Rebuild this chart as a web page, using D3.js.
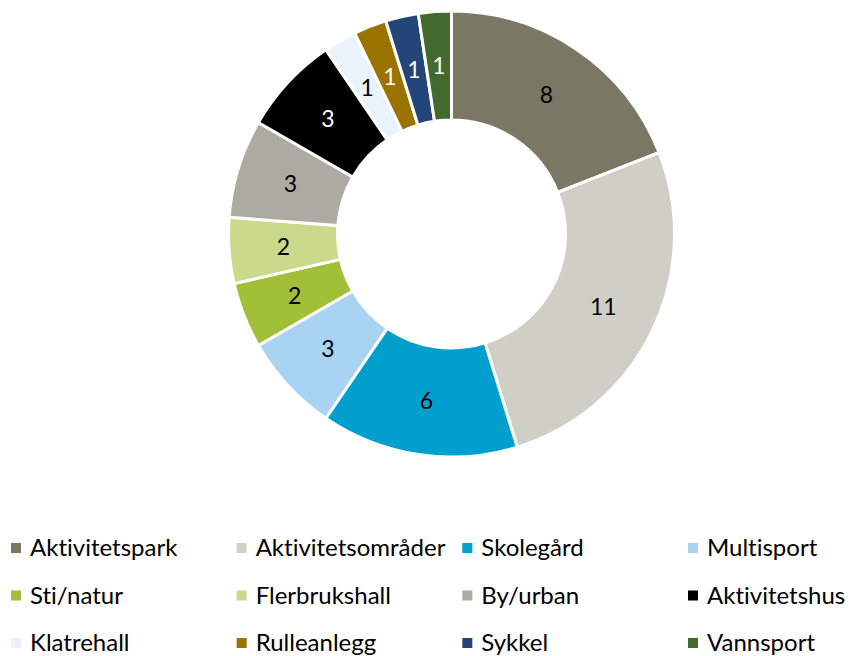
<!DOCTYPE html>
<html>
<head>
<meta charset="utf-8">
<script src="https://cdn.jsdelivr.net/npm/d3@7"></script>
<style>
  body { margin: 0; background: #fff; }
  svg { display: block; font-family: Lato, "Open Sans", sans-serif; font-variant-ligatures: none; }
</style>
</head>
<body>
<div id="chart"></div>
<script>
var w = 849, h = 656;

var categories = ["Aktivitetspark", "Aktivitetsområder", "Skolegård", "Multisport",
                  "Sti/natur", "Flerbrukshall", "By/urban", "Aktivitetshus",
                  "Klatrehall", "Rulleanlegg", "Sykkel", "Vannsport"];
var values = [8, 11, 6, 3, 2, 2, 3, 3, 1, 1, 1, 1];
var colors = ["#7a7864", "#d0cfc6", "#009fce", "#a8d4f2",
              "#a2bf38", "#c9da8b", "#adaaa1", "#000000",
              "#eaf3fc", "#9b7400", "#24457a", "#436a2e"];
var labelColors = ["#000", "#000", "#000", "#000",
                   "#000", "#000", "#000", "#fff",
                   "#000", "#fff", "#fff", "#fff"];

var cx = 451.5, cy = 234, rOuter = 223, rInner = 114;

var svg = d3.select("#chart").append("svg")
    .attr("width", w)
    .attr("height", h)

var data = categories.map(function(c, i) {
    return {name: c, value: values[i], color: colors[i], label: labelColors[i]};
});

var pie = d3.pie().sort(null).value(function(d){ return d.value; });
var arc = d3.arc().innerRadius(rInner).outerRadius(rOuter);
var labelArc = d3.arc().innerRadius((rInner + rOuter) / 2).outerRadius((rInner + rOuter) / 2);

var g = svg.append("g").attr("transform", "translate(" + cx + "," + cy + ")");

var slices = g.selectAll(".slice").data(pie(data)).enter().append("g").attr("class", "slice");

slices.append("path")
    .attr("d", arc)
    .style("fill", function(d){ return d.data.color; })
    .style("stroke", "#fff")
    .style("stroke-width", 3)
    .style("stroke-linejoin", "miter");

slices.append("text")
    .attr("transform", function(d){ return "translate(" + labelArc.centroid(d) + ")"; })
    .attr("text-anchor", "middle")
    .attr("dy", "0.35em")
    .style("font-size", "23px")
    .style("fill", function(d){ return d.data.label; })
    .text(function(d){ return d.data.value; });

// legend, 4 columns x 3 rows
var colX = d3.scalePoint().domain([0, 1, 2, 3]).range([11, 688]);
var rowY = d3.scalePoint().domain([0, 1, 2]).range([548, 643]);

var legend = svg.selectAll(".legend").data(data).enter().append("g")
    .attr("class", "legend")
    .attr("transform", function(d, i){ return "translate(" + colX(i % 4) + "," + rowY(Math.floor(i / 4)) + ")"; });

legend.append("rect")
    .attr("x", 0)
    .attr("y", -5)
    .attr("width", 10)
    .attr("height", 10)
    .style("fill", function(d){ return d.color; });

legend.append("text")
    .attr("x", 19)
    .attr("dy", "0.35em")
    .style("font-size", "24px")
    .style("fill", "#000")
    .text(function(d){ return d.name; });
</script>
</body>
</html>
